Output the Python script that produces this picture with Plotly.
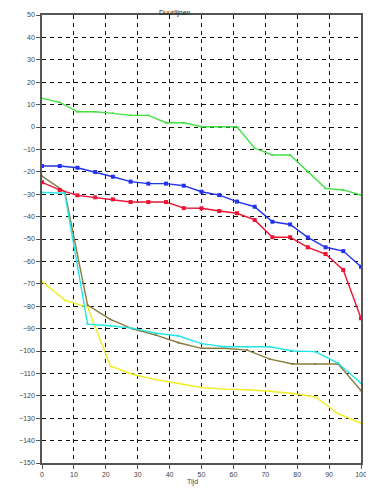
import plotly.graph_objects as go

x_a = [0, 5.56, 11.11, 16.67, 22.22, 27.78, 33.33, 38.89, 44.44, 50, 55.56, 61.11, 66.67, 72.22, 77.78, 83.33, 88.89, 94.44, 100]
green = [12.8, 11.0, 6.8, 6.8, 6.1, 5.2, 5.2, 1.9, 1.9, 0.1, 0.1, 0.1, -9.5, -12.5, -12.5, -20.0, -27.4, -28.1, -30.4]
blue = [-17.4, -17.4, -18.2, -20.1, -22.2, -24.4, -25.3, -25.3, -26.2, -28.9, -30.4, -33.3, -35.6, -42.3, -43.5, -49.3, -53.7, -55.4, -62.4]
red = [-24.7, -28.1, -30.5, -31.4, -32.3, -33.5, -33.5, -33.5, -36.2, -36.3, -37.5, -38.5, -41.5, -49.2, -49.2, -53.7, -56.7, -63.8, -85.4]

x_b = [0, 7.14, 14.29, 21.43, 28.57, 35.71, 42.86, 50, 57.14, 64.29, 71.43, 78.57, 85.71, 92.86, 100]
cyan = [-29.2, -29.6, -88.0, -88.7, -89.9, -92.1, -93.3, -96.7, -98.1, -98.1, -98.1, -100.0, -100.3, -105.5, -114.4]
brown = [-21.9, -28.9, -79.5, -85.9, -90.2, -92.9, -96.3, -98.8, -98.8, -99.6, -103.6, -105.8, -105.8, -105.8, -117.7]
yellow = [-69.0, -77.3, -80.5, -106.7, -110.5, -112.8, -114.5, -116.3, -117.0, -117.3, -118.0, -119.0, -120.5, -128.0, -132.3]

x_ticks = [0, 10, 20, 30, 40, 50, 60, 70, 80, 90, 100]
y_ticks = list(range(-150, 51, 10))

title_text = "Duurlijnen"
x_title = "Tijd"

fig = go.Figure()

def add(x, y, color, symbol, size):
    fig.add_trace(go.Scatter(
        x=x, y=y, mode="lines+markers",
        line=dict(color=color, width=1.4),
        marker=dict(color=color, symbol=symbol, size=size),
        showlegend=False, hoverinfo="skip"))

add(x_b, yellow, "#eeee22", "circle", 2)
add(x_b, brown, "#8a7a3c", "triangle-up", 3)
add(x_b, cyan, "#22e6e6", "triangle-up", 3)
add(x_a, green, "#44e044", "triangle-up", 3)
add(x_a, red, "#ee1133", "square", 4)
add(x_a, blue, "#2233ee", "square", 4)

axis_common = dict(
    showgrid=True, gridcolor="#111111", gridwidth=1, griddash="4px,4px",
    zeroline=False, showline=True, linecolor="#555555", linewidth=1.5,
    mirror=True, ticks="outside", ticklen=4, tickcolor="#555555",
    automargin=False,
    tickfont=dict(family="Liberation Sans, Arial", size=7, color="#444444"),
)

# page body has an 8px margin, so the figure is offset by (8, 8)
W, H = 366, 480
L, R, T, B = 34, 13, 7, 25
pw, ph = W - L - R, H - T - B

fig.update_layout(
    width=W, height=H,
    margin=dict(l=L, r=R, t=T, b=B),
    paper_bgcolor="white", plot_bgcolor="white",
    xaxis=dict(range=[0, 100], tickvals=x_ticks, **axis_common),
    yaxis=dict(range=[-150, 50], tickvals=y_ticks, **axis_common),
    annotations=[
        dict(text=title_text, x=(167 - L) / pw, y=(ph + T) / ph, xref="paper", yref="paper",
             xanchor="center", yanchor="top", borderpad=0, showarrow=False,
             font=dict(family="Liberation Sans, Arial", size=7, color="#222222")),
        dict(text=x_title, x=(184 - L) / pw, y=-B / ph, xref="paper", yref="paper",
             xanchor="center", yanchor="bottom", showarrow=False,
             font=dict(family="Liberation Sans, Arial", size=7, color="#444444")),
    ],
    shapes=[
        dict(type="line", xref="paper", yref="paper",
             x0=(363 - L) / pw, x1=(363 - L) / pw, y0=-B / ph, y1=(ph + T) / ph,
             line=dict(color="#111111", width=1.5)),
    ],
)

fig.write_html("out.html")
